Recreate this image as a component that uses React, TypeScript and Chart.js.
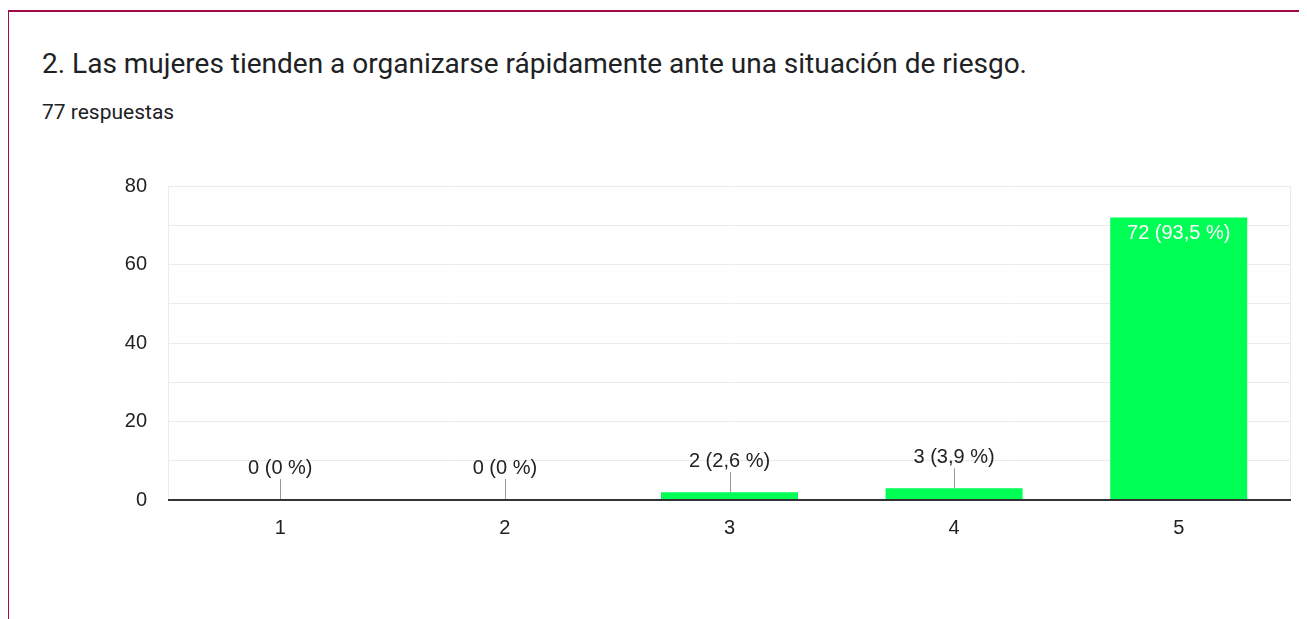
import React, { useEffect, useRef } from "react";
import { Chart, registerables } from "chart.js";

Chart.register(...registerables);

const TITLE = "2. Las mujeres tienden a organizarse rápidamente ante una situación de riesgo.";
const SUBTITLE = "77 respuestas";
const categories = ["1", "2", "3", "4", "5"];
const counts = [0, 0, 2, 3, 72];
const percentLabels = ["0 %", "0 %", "2,6 %", "3,9 %", "93,5 %"];
const yTicks = [0, 20, 40, 60, 80];

const CHART_FONT = "'Liberation Sans', Arial, sans-serif";

const labelPlugin = {
  id: "barLabels",
  beforeDatasetsDraw(chart: any) {
    const { ctx, chartArea } = chart;
    ctx.save();
    ctx.strokeStyle = "#ebebeb";
    ctx.lineWidth = 1;
    ctx.beginPath();
    ctx.moveTo(Math.round(chartArea.left) + 0.5, chartArea.top);
    ctx.lineTo(Math.round(chartArea.left) + 0.5, chartArea.bottom);
    ctx.moveTo(Math.round(chartArea.right) - 0.5, chartArea.top);
    ctx.lineTo(Math.round(chartArea.right) - 0.5, chartArea.bottom);
    ctx.stroke();
    ctx.restore();
  },
  afterDatasetsDraw(chart: any) {
    const { ctx } = chart;
    const meta = chart.getDatasetMeta(0);
    const yScale = chart.scales.y;
    const zeroY = yScale.getPixelForValue(0);
    ctx.save();
    ctx.strokeStyle = "#333333";
    ctx.lineWidth = 2;
    ctx.beginPath();
    ctx.moveTo(chart.chartArea.left, zeroY);
    ctx.lineTo(chart.chartArea.right, zeroY);
    ctx.stroke();
    ctx.font = `20px ${CHART_FONT}`;
    ctx.textAlign = "center";
    ctx.textBaseline = "middle";
    meta.data.forEach((bar: any, i: number) => {
      const v = counts[i];
      const text = `${v} (${percentLabels[i]})`;
      const top = bar.y;
      const h = zeroY - top;
      if (h > 40) {
        ctx.fillStyle = "#ffffff";
        ctx.fillText(text, bar.x, top + 16);
      } else {
        ctx.strokeStyle = "#999999";
        ctx.lineWidth = 1;
        ctx.beginPath();
        ctx.moveTo(Math.round(bar.x) + 0.5, top);
        ctx.lineTo(Math.round(bar.x) + 0.5, top - 20);
        ctx.stroke();
        ctx.fillStyle = "#222222";
        ctx.fillText(text, bar.x, top - 31);
      }
    });
    ctx.restore();
  },
};

function BarChart() {
  const ref = useRef<HTMLCanvasElement | null>(null);
  useEffect(() => {
    if (!ref.current) return;
    const chart = new Chart(ref.current, {
      type: "bar",
      data: {
        labels: categories,
        datasets: [
          {
            data: counts,
            backgroundColor: "#00ff55",
            borderWidth: 0,
            barPercentage: 0.61,
            categoryPercentage: 1,
            minBarLength: 1,
          },
        ],
      },
      options: {
        animation: false,
        responsive: true,
        maintainAspectRatio: false,
        layout: { padding: { top: 16, right: 9, left: 0, bottom: 0 } },
        plugins: {
          legend: { display: false },
          tooltip: { enabled: false },
          title: { display: false },
        },
        scales: {
          x: {
            grid: { display: false, drawTicks: false },
            border: { display: false },
            ticks: {
              padding: 16,
              color: "#222222",
              font: { family: CHART_FONT, size: 20 },
            },
            afterFit(scale: any) {
              scale.height = 60;
            },
          },
          y: {
            min: 0,
            max: 80,
            ticks: {
              stepSize: 10,
              padding: 21,
              color: "#222222",
              font: { family: CHART_FONT, size: 20 },
              callback: (value: any) => (yTicks.includes(Number(value)) ? String(value) : ""),
            },
            grid: {
              drawTicks: false,
              color: (c: any) => (c.tick && c.tick.value === 0 ? "#333333" : "#ebebeb"),
              lineWidth: (c: any) => (c.tick && c.tick.value === 0 ? 2 : 1),
            },
            border: { display: false },
            afterFit(scale: any) {
              scale.width = 68;
            },
          },
        },
      },
      plugins: [labelPlugin],
    });
    return () => chart.destroy();
  }, []);
  return <canvas ref={ref} />;
}

export default function App() {
  return (
    <div
      style={{
        position: "relative",
        marginLeft: -1,
        marginTop: 2,
        width: 1299,
        height: 620,
        boxSizing: "border-box",
        borderTop: "2px solid #a00c48",
        borderLeft: "2px solid #a00c48",
        borderRight: "1px solid #d5658f",
        background: "#ffffff",
      }}
    >
      <div
        style={{
          position: "absolute",
          left: 33,
          top: 36,
          fontFamily: "Roboto, 'Noto Sans', sans-serif",
          fontSize: 28,
          lineHeight: "32px",
          color: "#202124",
          whiteSpace: "nowrap",
        }}
      >
        {TITLE}
      </div>
      <div
        style={{
          position: "absolute",
          left: 33,
          top: 88,
          fontFamily: "Roboto, 'Noto Sans', sans-serif",
          fontSize: 21,
          lineHeight: "24px",
          color: "#202124",
          whiteSpace: "nowrap",
        }}
      >
        {SUBTITLE}
      </div>
      <div style={{ position: "absolute", left: 91, top: 141, width: 1200, height: 407 }}>
        <BarChart />
      </div>
    </div>
  );
}
